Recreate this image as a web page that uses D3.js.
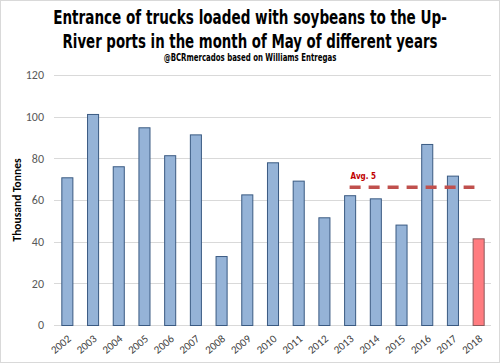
<!DOCTYPE html>
<html>
<head>
<meta charset="utf-8">
<script src="https://cdn.jsdelivr.net/npm/d3@7"></script>
<style>
  html, body { margin: 0; padding: 0; background: #fff; }
  svg { display: block; }
</style>
</head>
<body>
<svg id="chart" width="500" height="363"></svg>
<script>
const years = ['2002','2003','2004','2005','2006','2007','2008','2009','2010','2011','2012','2013','2014','2015','2016','2017','2018']
const tonnes = [70.9, 101.3, 76.2, 94.9, 81.5, 91.5, 33.1, 62.7, 78.1, 69.3, 51.7, 62.3, 60.8, 48.2, 86.9, 71.7, 41.6]
const yTicks = [0, 20, 40, 60, 80, 100, 120]
const avgYears = ['2013','2017']
const avgValue = 66.1
const avgLabel = 'Avg. 5'

const W = 500, H = 363
const margin = {top: 75, right: 9, bottom: 38, left: 54}
const narrow = '"DejaVu Sans Condensed", "Liberation Sans Narrow", "Arial Narrow", sans-serif'
const body = 'Calibri, Carlito, "Open Sans", sans-serif'

const svg = d3.select('#chart')

// outer frame
svg.append('rect')
  .attr('x', 0.5).attr('y', 0.5)
  .attr('width', W - 1).attr('height', H - 1)
  .attr('fill', '#fff').attr('stroke', '#d9d9d9')

const x = d3.scaleBand()
  .domain(years)
  .range([margin.left, W - margin.right])
  .paddingInner(0.57)
  .paddingOuter(0.285)

const y = d3.scaleLinear()
  .domain([0, 120])
  .range([H - margin.bottom, margin.top])

// gridlines
svg.append('g')
  .selectAll('line')
  .data(yTicks)
  .join('line')
    .attr('x1', margin.left)
    .attr('x2', W - margin.right)
    .attr('y1', d => Math.round(y(d)) + 0.5)
    .attr('y2', d => Math.round(y(d)) + 0.5)
    .attr('stroke', '#d9d9d9')
    .attr('stroke-width', 1)

// y axis labels
const yAxis = svg.append('g')
  .attr('transform', 'translate(' + margin.left + ',0)')
  .call(d3.axisLeft(y).tickValues(yTicks).tickSize(0).tickPadding(10))
yAxis.select('.domain').remove()
yAxis.selectAll('text')
  .attr('fill', '#595959')
  .style('font-family', body)
  .style('font-size', '12px')

// bars
svg.append('g')
  .selectAll('rect')
  .data(years)
  .join('rect')
    .attr('x', d => x(d) + 0.5)
    .attr('y', (d, i) => y(tonnes[i]) + 0.5)
    .attr('width', x.bandwidth())
    .attr('height', (d, i) => y(0) - y(tonnes[i]))
    .attr('fill', d => d === '2018' ? '#ff7c80' : '#95b3d7')
    .attr('stroke', d => d === '2018' ? '#8a5a5c' : '#3a5a82')
    .attr('stroke-width', 1)

// x axis labels
const xAxis = svg.append('g')
  .attr('transform', 'translate(0,' + y(0) + ')')
  .call(d3.axisBottom(x).tickSize(0).tickPadding(0))
xAxis.select('.domain').remove()
xAxis.selectAll('text')
  .attr('fill', '#404040')
  .attr('text-anchor', 'end')
  .attr('y', 0)
  .attr('dy', '0.71em')
  .attr('transform', 'translate(0,9) rotate(-40)')
  .style('font-family', body)
  .style('font-size', '11px')

// 5-year average line
const avgX1 = x(avgYears[0]) + x.bandwidth() / 2
const avgX2 = x(avgYears[1]) + x.bandwidth() / 2 + 22
svg.append('line')
  .attr('x1', avgX1)
  .attr('x2', avgX2)
  .attr('y1', y(avgValue))
  .attr('y2', y(avgValue))
  .attr('stroke', '#c0504d')
  .attr('stroke-width', 3.5)
  .attr('stroke-dasharray', '11,8')

svg.append('text')
  .attr('x', avgX1 + 1)
  .attr('y', y(avgValue) - 8)
  .attr('fill', '#c00000')
  .style('font-family', narrow)
  .style('font-weight', 'bold')
  .style('font-size', '8px')
  .text(avgLabel)

// titles: squeeze horizontally to the narrow face of the original
function fitText(sel, cx, targetW) {
  const w = sel.node().getComputedTextLength()
  const k = Math.min(1, targetW / w)
  sel.attr('text-anchor', 'middle')
    .attr('x', 0)
    .attr('transform', 'translate(' + cx + ',' + sel.attr('data-y') + ') scale(' + k + ',1)')
    .attr('y', 0)
}

const titleLines = [
  {text: 'Entrance of trucks loaded with soybeans to the Up-', y: 24, len: 394, size: 20},
  {text: 'River ports in the month of May of different years', y: 48, len: 375, size: 20},
  {text: '@BCRmercados based on Williams Entregas', y: 61, len: 173, size: 10}
]
titleLines.forEach(d => {
  const t = svg.append('text')
    .attr('data-y', d.y)
    .attr('fill', '#000')
    .style('font-family', narrow)
    .style('font-weight', 'bold')
    .style('font-size', d.size + 'px')
    .text(d.text)
  fitText(t, 250, d.len)
})

// y axis title
svg.append('text')
  .attr('transform', 'translate(21,' + y(60) + ') rotate(-90)')
  .attr('text-anchor', 'middle')
  .attr('fill', '#000')
  .style('font-family', body)
  .style('font-weight', 'bold')
  .style('font-size', '11.5px')
  .text('Thousand Tonnes')
</script>
</body>
</html>
